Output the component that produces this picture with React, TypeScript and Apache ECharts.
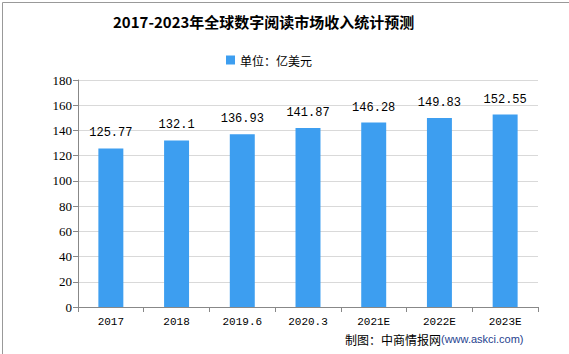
import React, { useEffect, useRef } from "react";
import * as echarts from "echarts";

const categories = ["2017", "2018", "2019.6", "2020.3", "2021E", "2022E", "2023E"];
const values = [125.77, 132.1, 136.93, 141.87, 146.28, 149.83, 152.55];
const valueLabels = ["125.77", "132.1", "136.93", "141.87", "146.28", "149.83", "152.55"];
const seriesName = "单位：亿美元";
const titleText = "2017-2023年全球数字阅读市场收入统计预测";

const serif = "'Liberation Serif', 'DejaVu Serif', 'Noto Sans CJK SC', serif";
const mono = "'Liberation Mono', 'DejaVu Sans Mono', 'Noto Sans CJK SC', monospace";

export default function App() {
  const ref = useRef<HTMLDivElement>(null);
  useEffect(() => {
    document.body.style.margin = "0";
    const chart = echarts.init(ref.current!, null, { renderer: "svg" });
    chart.setOption({
      animation: false,
      backgroundColor: "#ffffff",
      title: {
        text: titleText,
        left: 108,
        top: 9,
        textStyle: { fontSize: 15, fontWeight: "bold", color: "#000", fontFamily: "'Noto Sans CJK SC', sans-serif" },
      },
      legend: {
        top: 49,
        left: 221,
        itemWidth: 9,
        itemHeight: 9,
        icon: "rect",
        itemGap: 4,
        textStyle: { fontSize: 12, color: "#000", fontFamily: "'Noto Sans CJK SC', sans-serif" },
        data: [seriesName],
      },
      grid: { left: 78, right: 31, top: 80, bottom: 47 },
      xAxis: {
        type: "category",
        data: categories,
        axisLine: { lineStyle: { color: "#888", width: 1 } },
        axisTick: { show: true, alignWithLabel: false, length: 5, lineStyle: { color: "#888" } },
        axisLabel: { color: "#000", fontSize: 11, fontFamily: mono, margin: 9 },
      },
      yAxis: {
        type: "value",
        min: 0,
        max: 180,
        interval: 20,
        axisLine: { show: true, lineStyle: { color: "#888" } },
        axisTick: { show: true, length: 5, lineStyle: { color: "#888" } },
        axisLabel: { color: "#000", fontSize: 13, fontFamily: serif, margin: 6 },
        splitLine: { lineStyle: { color: "#d9d9d9" } },
      },
      series: [
        {
          name: seriesName,
          type: "bar",
          data: values,
          barWidth: "38%",
          itemStyle: { color: "#3d9ef0" },
          label: {
            show: true,
            position: "top",
            distance: 9,
            color: "#000",
            fontSize: 12,
            fontFamily: mono,
            formatter: (p: any) => valueLabels[p.dataIndex],
          },
        },
      ],
      graphic: [
        {
          type: "rect",
          left: 0,
          top: 0,
          shape: { width: 568, height: 353 },
          style: { fill: "none", stroke: "#999", lineWidth: 1 },
          silent: true,
        },
        {
          type: "text",
          left: 345,
          top: 333,
          style: {
            rich: {
              a: { fontSize: 12, fill: "#000", fontFamily: "'Noto Sans CJK SC', sans-serif" },
              b: { fontSize: 11, fill: "#1f3f8f", fontFamily: "'Liberation Sans', sans-serif" },
            },
            text: "{a|制图：中商情报网}{b|(www.askci.com)}",
          },
        },
      ],
    });
    return () => chart.dispose();
  }, []);
  return <div ref={ref} style={{ width: 569, height: 354 }} />;
}
